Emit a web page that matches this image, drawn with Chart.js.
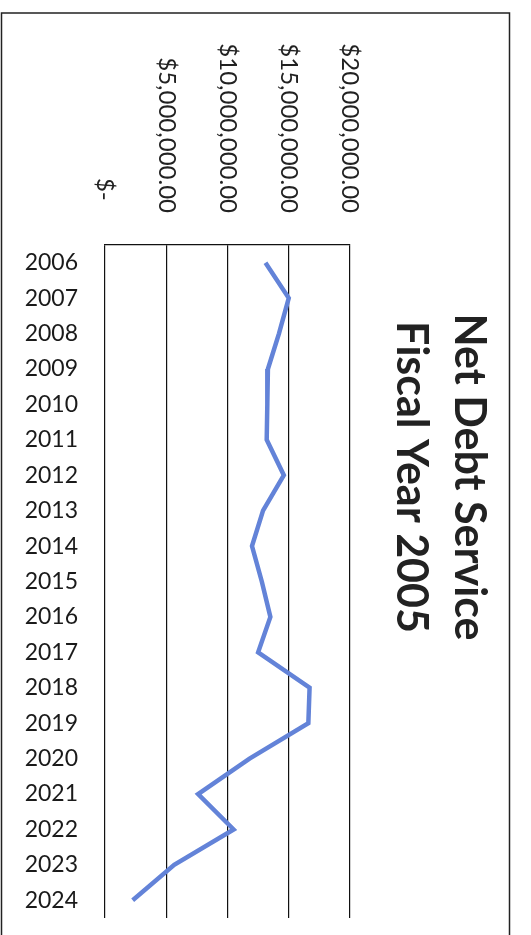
<!DOCTYPE html>
<html>
<head>
<meta charset="utf-8">
<script src="https://cdn.jsdelivr.net/npm/chart.js@4/dist/chart.umd.min.js"></script>
<style>
html,body{margin:0;padding:0;background:#fff;}
#wrap{width:531px;height:935px;position:relative;}
</style>
</head>
<body>
<div id="wrap"><canvas id="c" width="531" height="935"></canvas></div>
<script>
const years = ["2006","2007","2008","2009","2010","2011","2012","2013","2014","2015","2016","2017","2018","2019","2020","2021","2022","2023","2024"];
const netDebtService = [13100000,15000000,14200000,13300000,13250000,13200000,14600000,12900000,12000000,12800000,13500000,12500000,16700000,16600000,11800000,7600000,10500000,5650000,2260000];
const valueTicks = [0,5000000,10000000,15000000,20000000];
const valueTickLabels = ["$-  ","$5,000,000.00","$10,000,000.00","$15,000,000.00","$20,000,000.00"];
const titleLines = ["Net Debt Service","Fiscal Year 2005"];

const FONT = "Lato, 'Open Sans', sans-serif";

const decor = {
  id: 'decor',
  afterDraw(chart) {
    const ctx = chart.ctx;
    const xs = chart.scales.x;
    const area = chart.chartArea;
    ctx.save();
    // frame
    ctx.strokeStyle = '#222';
    ctx.lineWidth = 1.5;
    ctx.strokeRect(1.5, 13, 508, 930);
    // value tick labels rotated clockwise
    ctx.fillStyle = '#222';
    ctx.font = "24px " + FONT;
    ctx.textAlign = 'right';
    ctx.textBaseline = 'middle';
    valueTicks.forEach((v, i) => {
      const px = xs.getPixelForValue(v);
      ctx.save();
      ctx.translate(px, area.top - 32);
      ctx.rotate(Math.PI / 2);
      ctx.fillText(valueTickLabels[i], 0, 0);
      ctx.restore();
    });
    // title rotated clockwise
    ctx.font = "bold 43px " + FONT;
    ctx.textAlign = 'center';
    ctx.textBaseline = 'alphabetic';
    ctx.fillStyle = '#222';
    const cy = 477;
    const baselines = [455, 397];
    titleLines.forEach((t, i) => {
      ctx.save();
      ctx.translate(baselines[i], cy);
      ctx.rotate(Math.PI / 2);
      ctx.fillText(t, 0, 0);
      ctx.restore();
    });
    ctx.restore();
  }
};

new Chart(document.getElementById('c'), {
  type: 'line',
  data: {
    labels: years,
    datasets: [{
      data: netDebtService,
      borderColor: '#6383d8',
      borderWidth: 4.5,
      pointRadius: 0,
      tension: 0,
      fill: false
    }]
  },
  options: {
    indexAxis: 'y',
    responsive: false,
    animation: false,
    devicePixelRatio: 1,
    layout: { padding: { left: 0, top: 0, right: 181, bottom: 17 } },
    plugins: { legend: { display: false }, tooltip: { enabled: false }, title: { display: false } },
    scales: {
      x: {
        type: 'linear',
        position: 'top',
        min: 0,
        max: 20000000,
        afterBuildTicks(scale) { scale.ticks = valueTicks.map(v => ({ value: v })); },
        afterFit(scale) { scale.height = 245; scale.paddingLeft = 0; scale.paddingRight = 0; },
        ticks: { display: false },
        grid: { display: true, color: '#111', lineWidth: 1.2, drawTicks: false },
        border: { display: true, color: '#111', width: 1.2 }
      },
      y: {
        type: 'category',
        offset: true,
        afterFit(scale) { scale.width = 105; scale.paddingTop = 0; scale.paddingBottom = 0; },
        grid: { display: false, drawTicks: false },
        border: { display: false },
        ticks: { color: '#1a1a1a', font: { family: FONT, size: 23 }, padding: 27, autoSkip: false }
      }
    }
  },
  plugins: [decor]
});
</script>
</body>
</html>
